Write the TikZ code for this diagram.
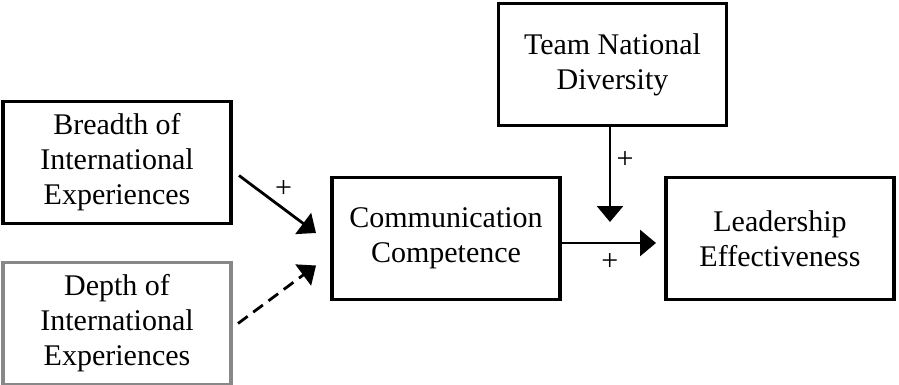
\documentclass[tikz,border=0pt]{standalone}
\usepackage{fontspec}
\setmainfont{Liberation Serif}
\usetikzlibrary{positioning,arrows.meta}
\definecolor{boxgray}{RGB}{136,136,136}
\tikzstyle{block} = [draw, line width=1.75pt, outer sep=0pt, minimum width=114pt, minimum height=61pt, align=center, font=\fontsize{15}{17.5}\selectfont]
\tikzstyle{link} = [line width=1.4pt, -{Triangle[length=8pt,width=13pt]}]
\tikzstyle{sign} = [inner sep=0pt, font=\fontsize{15}{17.5}\selectfont]

\begin{document}
\begin{tikzpicture}[x=0.5pt,y=-0.5pt]
        \useasboundingbox (0,0) rectangle (899,385);
        %Blocks
        \node [block] (breadth) at (117,162.5) {Breadth of\\International\\Experiences};
        \node [block, draw=boxgray, below = 19.5pt of breadth] (depth) {Depth of\\International\\Experiences};
        \node [block] (comm) at (446,238.5) {Communication\\Competence};
        \node [block, right = 53pt of comm] (lead) {Leadership\\Effectiveness};
        \node [block] (team) at (612.5,64.5) {Team National\\Diversity};
        \coordinate (mod) at (610,243);
        %Arrows
        \draw [link] ([xshift=4pt,yshift=-6.5pt]breadth.east) -- ([xshift=-8pt,yshift=2.75pt]comm.west)
            node [sign, pos=0.58, yshift=10pt] {+};
        \draw [link, dash pattern=on 6pt off 3.5pt] ([xshift=3.5pt]depth.east) -- ([xshift=-8pt,yshift=-13.5pt]comm.west);
        \draw [link] ([xshift=-1.25pt]team.south) -- ([yshift=10.5pt]mod)
            node [sign, pos=0.36, xshift=7.5pt] {+};
        \draw [link, shorten >=5pt] (comm.east |- mod) -- (lead.west |- mod)
            node [sign, pos=0.47, yshift=-9.5pt] {+};
    \end{tikzpicture}
\end{document}
